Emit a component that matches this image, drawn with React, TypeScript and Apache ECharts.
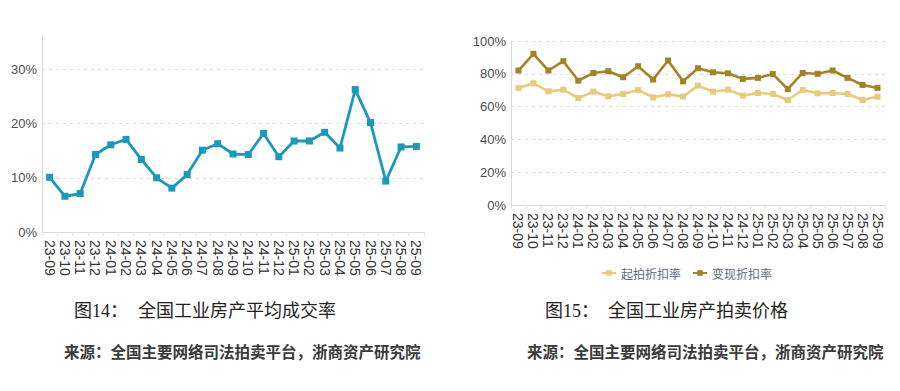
import React, { useEffect, useRef } from "react";
import * as echarts from "echarts";

const months = [
  "23-09", "23-10", "23-11", "23-12", "24-01", "24-02", "24-03", "24-04", "24-05",
  "24-06", "24-07", "24-08", "24-09", "24-10", "24-11", "24-12", "25-01", "25-02",
  "25-03", "25-04", "25-05", "25-06", "25-07", "25-08", "25-09",
];

const dealRate = [
  10.1, 6.6, 7.1, 14.3, 16.1, 17.1, 13.4, 10.0, 8.1, 10.6, 15.1, 16.3, 14.4,
  14.3, 18.2, 13.9, 16.8, 16.8, 18.4, 15.5, 26.3, 20.2, 9.4, 15.7, 15.8,
];

const startDiscount = [
  71.4, 74.2, 69.3, 70.3, 65.2, 69.1, 66.3, 67.7, 70.1, 65.6, 67.5, 66.1, 72.8,
  69.1, 70.3, 66.7, 68.3, 67.7, 64.0, 70.1, 68.1, 68.3, 67.7, 64.0, 66.1,
];

const realizeDiscount = [
  82.0, 92.2, 82.0, 87.7, 75.8, 80.5, 81.6, 77.9, 84.6, 76.5, 88.1, 75.4, 83.4,
  80.9, 80.3, 76.9, 77.5, 79.9, 70.7, 80.5, 80.0, 82.0, 77.5, 73.2, 71.4,
];

const leftTicks = [0, 10, 20, 30];
const rightTicks = [0, 20, 40, 60, 80, 100];

const seriesNames = ["起拍折扣率", "变现折扣率"];

const captions = {
  leftNo: "图14：",
  leftTitle: "全国工业房产平均成交率",
  rightNo: "图15：",
  rightTitle: "全国工业房产拍卖价格",
  source: "来源：全国主要网络司法拍卖平台，浙商资产研究院",
};

const axisFont = "'Liberation Sans', Arial, sans-serif";
const capFont = "'Liberation Serif', 'Noto Sans CJK SC', serif";

export default function App() {
  const ref = useRef<HTMLDivElement>(null);

  useEffect(() => {
    document.body.style.margin = "0";
    const chart = echarts.init(ref.current!, null, { renderer: "svg" });
    const grid = "#d9d9d9";
    const xAxisCommon = {
      type: "category" as const,
      data: months,
      boundaryGap: true,
      axisLine: { lineStyle: { color: grid, width: 1 } },
      axisTick: { show: true, length: 4, lineStyle: { color: "#e6e6e6" } },
      axisLabel: {
        rotate: -90,
        interval: 0,
        color: "#333",
        fontSize: 14,
        fontFamily: axisFont,
        margin: 8,
      },
    };
    chart.setOption({
      animation: false,
      backgroundColor: "#fff",
      grid: [
        { left: 42, right: 476, top: 37, height: 195, containLabel: false },
        { left: 511, right: 15, top: 41, height: 164, containLabel: false },
      ],
      xAxis: [
        { ...xAxisCommon, gridIndex: 0 },
        { ...xAxisCommon, gridIndex: 1 },
      ],
      yAxis: [
        {
          type: "value",
          gridIndex: 0,
          min: leftTicks[0],
          max: 36,
          interval: 10,
          axisLine: { show: true, lineStyle: { color: grid } },
          axisTick: { show: false },
          axisLabel: {
            color: "#4d4d4d",
            fontSize: 13,
            fontFamily: axisFont,
            margin: 5,
            showMaxLabel: false,
            formatter: (v: number) => (leftTicks.includes(v) ? v + "%" : ""),
          },
          splitLine: {
            show: true,
            lineStyle: {
              color: ["#dcdcdc", "#dcdcdc", "#dcdcdc", "#dcdcdc", "rgba(0,0,0,0)"],
              type: [3, 4],
            },
          },
        },
        {
          type: "value",
          gridIndex: 1,
          min: rightTicks[0],
          max: rightTicks[rightTicks.length - 1],
          interval: 20,
          axisLine: { show: true, lineStyle: { color: grid } },
          axisTick: { show: false },
          axisLabel: {
            color: "#4d4d4d",
            fontSize: 13,
            fontFamily: axisFont,
            margin: 5,
            formatter: (v: number) => v + "%",
          },
          splitLine: {
            show: true,
            lineStyle: { color: "#dcdcdc", type: [3, 4] },
          },
        },
      ],
      legend: {
        left: 596,
        top: 262,
        itemWidth: 14,
        itemHeight: 7,
        itemGap: 11,
        textStyle: { color: "#5b6a84", fontSize: 12, fontFamily: "'Noto Sans CJK SC', sans-serif" },
        data: seriesNames,
      },
      series: [
        {
          type: "line",
          name: "平均成交率",
          xAxisIndex: 0,
          yAxisIndex: 0,
          data: dealRate,
          symbol: "rect",
          symbolSize: 7,
          lineStyle: { color: "#1a98bd", width: 2.8 },
          itemStyle: { color: "#1a98bd" },
        },
        {
          type: "line",
          name: seriesNames[0],
          xAxisIndex: 1,
          yAxisIndex: 1,
          data: startDiscount,
          symbol: "rect",
          symbolSize: 6,
          lineStyle: { color: "#e9c97c", width: 2.6 },
          itemStyle: { color: "#e9c97c" },
        },
        {
          type: "line",
          name: seriesNames[1],
          xAxisIndex: 1,
          yAxisIndex: 1,
          data: realizeDiscount,
          symbol: "rect",
          symbolSize: 6,
          lineStyle: { color: "#a58325", width: 2.6 },
          itemStyle: { color: "#a58325" },
        },
      ],
      graphic: [
        {
          type: "text",
          left: 74,
          top: 302,
          style: { text: captions.leftNo, fontSize: 18, fontFamily: capFont, fill: "#222" },
        },
        {
          type: "text",
          left: 138,
          top: 302,
          style: { text: captions.leftTitle, fontSize: 18, fontFamily: capFont, fill: "#222" },
        },
        {
          type: "text",
          left: 545,
          top: 302,
          style: { text: captions.rightNo, fontSize: 18, fontFamily: capFont, fill: "#222" },
        },
        {
          type: "text",
          left: 608,
          top: 302,
          style: { text: captions.rightTitle, fontSize: 18, fontFamily: capFont, fill: "#222" },
        },
        {
          type: "text",
          left: 64,
          top: 345,
          style: { text: captions.source, fontSize: 15.5, fontWeight: "bold", fontFamily: capFont, fill: "#3a3a3a" },
        },
        {
          type: "text",
          left: 527,
          top: 345,
          style: { text: captions.source, fontSize: 15.5, fontWeight: "bold", fontFamily: capFont, fill: "#3a3a3a" },
        },
      ],
    });
    return () => chart.dispose();
  }, []);

  return <div ref={ref} style={{ width: 900, height: 391 }} />;
}
